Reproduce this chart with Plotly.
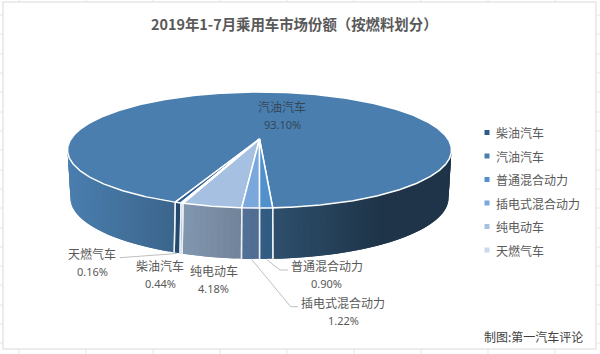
import math
import plotly.graph_objects as go

categories = ["柴油汽车", "汽油汽车", "普通混合动力", "插电式混合动力", "纯电动车", "天燃气车"]
shares = [0.44, 93.10, 0.90, 1.22, 4.18, 0.16]
colors = [(45, 92, 140), (74, 126, 174), (79, 144, 205), (122, 167, 220), (165, 192, 224), (200, 217, 239)]
title_text = "2019年1-7月乘用车市场份额（按燃料划分）"
footer_text = "制图:第一汽车评论"

FIRST_ANGLE = 200.0
TOP = dict(cx=259.5, cy=139.0, a=188.5, b=55.9, k=0.19)
BOTTOM = dict(cx=259.5, cy=184.6, a=184.4, b=58.0, k=0.22)

# label anchor (centre x, y of name line, y of value line)
label_pos = {
    "汽油汽车": (282, 106.5, 124),
    "普通混合动力": (326.7, 265, 283),
    "插电式混合动力": (343, 302.7, 320),
    "纯电动车": (213.5, 270.7, 288),
    "柴油汽车": (160, 265, 283),
    "天燃气车": (92, 253.3, 271),
}
leaders = [
    ([120, 176.7], [257.7, 253.5]),
    ([266.7, 280, 288], [259.5, 270, 270]),
    ([251.7, 290.7, 298], [259.5, 306.7, 306.7]),
]


def project(theta, p):
    t = math.radians(theta)
    u, v = math.sin(t), -math.cos(t)
    d = 1 - p["k"] * v
    return p["cx"] + p["a"] * u / d, p["cy"] + p["b"] * v / d


def arc(t0, t1, p, step=0.5):
    n = max(2, int(abs(t1 - t0) / step) + 1)
    pts = [project(t0 + (t1 - t0) * i / (n - 1), p) for i in range(n)]
    return [q[0] for q in pts], [q[1] for q in pts]


def shade(x):
    stops = [(70, 1.0), (175, 0.80), (270, 0.63), (375, 0.42), (460, 0.42)]
    if x <= stops[0][0]:
        return stops[0][1]
    for (x0, f0), (x1, f1) in zip(stops, stops[1:]):
        if x <= x1:
            return f0 + (f1 - f0) * (x - x0) / (x1 - x0)
    return stops[-1][1]


# slice angle ranges from the values
spans = []
ang = FIRST_ANGLE
for s in shares:
    spans.append((ang, ang + s * 3.6))
    ang += s * 3.6

fig = go.Figure()


def poly(xs, ys, fill, line_color, width):
    fig.add_trace(go.Scatter(x=xs, y=ys, mode="lines", fill="toself", fillcolor=fill,
                             line=dict(color=line_color, width=width),
                             hoverinfo="skip", showlegend=False))


# side wall, in thin shaded strips over the visible front; each strip overlaps the next
for (t0, t1), c in zip(spans, colors):
    for off in (0, -360):
        a0, a1 = max(t0 + off, 85), min(t1 + off, 275)
        if a1 <= a0:
            continue
        n = max(1, int((a1 - a0) / 1.5))
        for i in range(n):
            s0 = a0 + (a1 - a0) * i / n
            s1 = min(a1, a0 + (a1 - a0) * (i + 2) / n)
            tx, ty = arc(s0, s1, TOP, 0.5)
            bx, by = arc(s1, s0, BOTTOM, 0.5)
            mid = (tx[0] + tx[-1]) / 2
            f = shade(mid)
            col = "rgb({},{},{})".format(*[int(v * f) for v in c])
            poly(tx + bx + [tx[0]], ty + by + [ty[0]], col, col, 0)

# white separators on the wall
for (t0, t1) in spans:
    for t in (t0, t1):
        tm = t % 360
        if 90 < tm < 270:
            x0, y0 = project(tm, TOP)
            x1, y1 = project(tm, BOTTOM)
            fig.add_trace(go.Scatter(x=[x0, x1], y=[y0, y1], mode="lines",
                                     line=dict(color="rgba(235,240,245,0.95)", width=1.4),
                                     hoverinfo="skip", showlegend=False))

# top face wedges
for (t0, t1), c in sorted(zip(spans, colors), key=lambda z: z[0][0] - z[0][1]):
    xs, ys = arc(t0, t1, TOP, 0.5)
    ox, oy = project(0, dict(TOP, a=0, b=0))
    poly([ox] + xs + [ox], [oy] + ys + [oy], "rgb({},{},{})".format(*c), "white", 1.5)

# leader lines
for lx, ly in leaders:
    fig.add_trace(go.Scatter(x=lx, y=ly, mode="lines", line=dict(color="#bfbfbf", width=1),
                             hoverinfo="skip", showlegend=False))

CJK = "Noto Sans CJK SC"
ann = []
for name, val in zip(categories, shares):
    cx, y1, y2 = label_pos[name]
    col = "#33475b" if name == "汽油汽车" else "#595959"
    ann.append(dict(x=cx, y=y1, text=name, showarrow=False, font=dict(family=CJK, size=12, color=col)))
    ann.append(dict(x=cx, y=y2, text=f"{val:.2f}%", showarrow=False, font=dict(family="Noto Sans", size=11, color=col)))

ann.append(dict(x=294, y=23, text=f"<b>{title_text}</b>", showarrow=False, font=dict(family=CJK, size=14.4, color="#595959")))
ann.append(dict(x=585, y=336.7, text=footer_text, xanchor="right", showarrow=False, font=dict(family=CJK, size=12, color="#404040")))

# legend
for i, (name, c) in enumerate(zip(categories, colors)):
    y = 132.5 + i * 23.5
    fig.add_trace(go.Scatter(x=[487], y=[y], mode="markers", name=name, showlegend=False,
                             marker=dict(symbol="square", size=5, color="rgb({},{},{})".format(*c)),
                             hoverinfo="name"))
    ann.append(dict(x=494, y=y, text=name, xanchor="left", showarrow=False,
                    font=dict(family=CJK, size=12, color="#595959")))

# worksheet frame and gridline stubs behind the chart
FRAME = "#e6e6e6"
shapes = [dict(type="rect", x0=3, y0=2, x1=596, y1=349, line=dict(color=FRAME, width=1.5), layer="below")]
for x in [19, 86, 153, 220, 287, 354, 421, 488, 555]:
    shapes.append(dict(type="line", x0=x, x1=x, y0=349, y1=354, line=dict(color=FRAME, width=1), layer="below"))
    shapes.append(dict(type="line", x0=x, x1=x, y0=0, y1=2, line=dict(color=FRAME, width=1), layer="below"))
for y in [15, 34, 54, 73, 92, 112, 131, 150, 170, 189, 208, 228, 247, 266, 285, 305, 324, 343]:
    shapes.append(dict(type="line", x0=0, x1=3, y0=y, y1=y, line=dict(color=FRAME, width=1), layer="below"))
    shapes.append(dict(type="line", x0=596, x1=600, y0=y, y1=y, line=dict(color=FRAME, width=1), layer="below"))

fig.update_layout(
    width=600, height=354, margin=dict(l=0, r=0, t=0, b=0),
    paper_bgcolor="white", plot_bgcolor="white", showlegend=False,
    xaxis=dict(range=[0, 600], visible=False, fixedrange=True),
    yaxis=dict(range=[354, 0], visible=False, fixedrange=True),
    annotations=ann, shapes=shapes,
)
fig.write_html("out.html", config=dict(displayModeBar=False),
               post_script="document.body.style.margin='0';document.documentElement.style.overflow='hidden';")
